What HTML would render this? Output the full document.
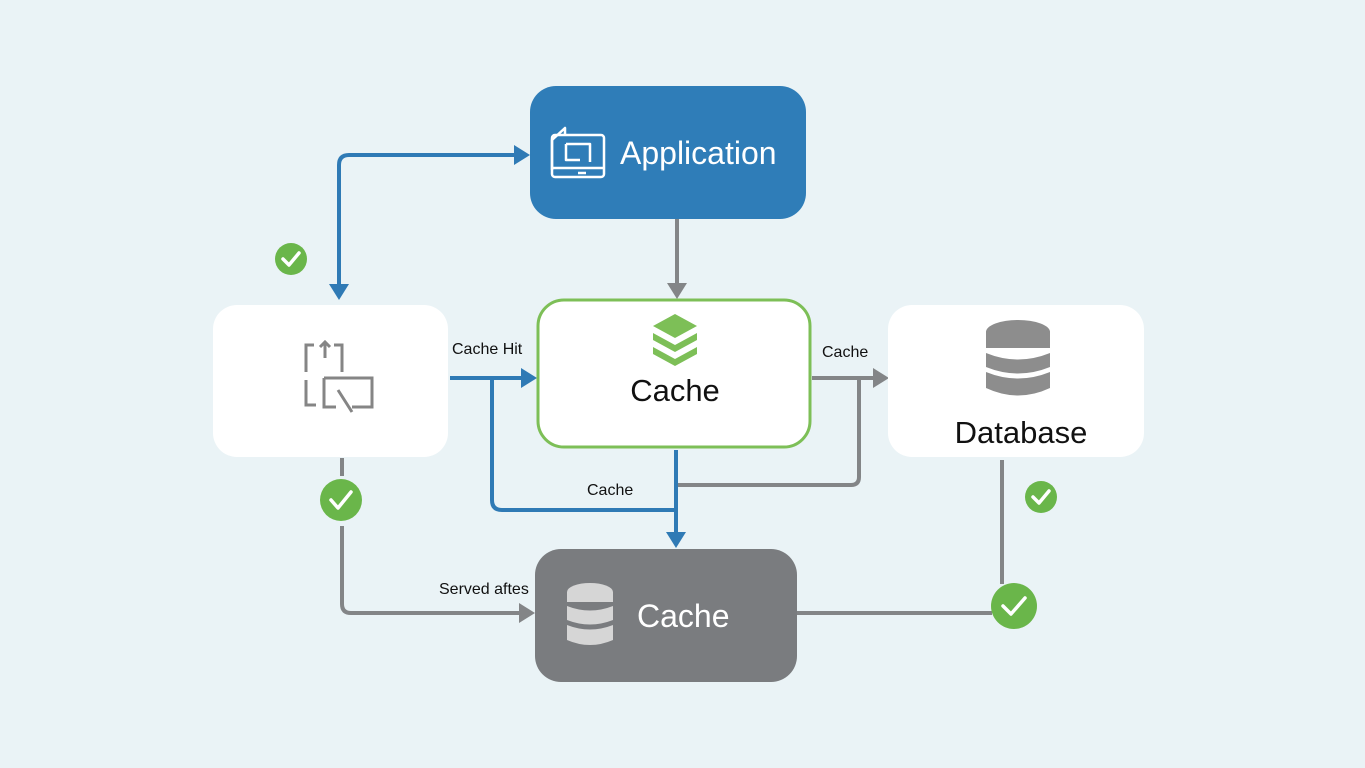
<!DOCTYPE html>
<html><head><style>
html,body{margin:0;padding:0;width:1365px;height:768px;overflow:hidden;background:#eaf3f6;}
svg{display:block;font-family:"Liberation Sans",sans-serif;}
</style></head><body>
<svg width="1365" height="768" viewBox="0 0 1365 768">
<rect width="1365" height="768" fill="#eaf3f6"/>
<g fill="none" stroke-width="4">
<path d="M339 286 V165 Q339 155 349 155 H516" stroke="#2f7ab5"/>
<path d="M677 219 V285" stroke="#838587"/>
<path d="M450 378 H522" stroke="#2f7ab5"/>
<path d="M492 378 V500 Q492 510 502 510 H676" stroke="#2f7ab5"/>
<path d="M676 450 V534" stroke="#2f7ab5"/>
<path d="M812 378 H874" stroke="#838587"/>
<path d="M859 378 V477 Q859 485 851 485 H678" stroke="#838587"/>
<path d="M342 458 V476" stroke="#838587"/>
<path d="M342 526 V604 Q342 613 351 613 H520" stroke="#838587"/>
<path d="M797 613 H992" stroke="#838587"/>
<path d="M1002 460 V584" stroke="#838587"/>
</g>
<g>
<polygon points="514,145 530,155 514,165" fill="#2f7ab5"/>
<polygon points="329,284 349,284 339,300" fill="#2f7ab5"/>
<polygon points="667,283 687,283 677,299" fill="#838587"/>
<polygon points="521,368 537,378 521,388" fill="#2f7ab5"/>
<polygon points="666,532 686,532 676,548" fill="#2f7ab5"/>
<polygon points="873,368 889,378 873,388" fill="#838587"/>
<polygon points="519,603 535,613 519,623" fill="#838587"/>
</g>
<rect x="530" y="86" width="276" height="133" rx="26" fill="#2f7db8"/>
<g fill="none" stroke="#fff" stroke-width="2.5" stroke-linejoin="round">
<path d="M552 170 V140 L565 128 V135"/>
<rect x="552" y="135" width="52" height="42" rx="3"/>
<path d="M552 168 H604"/>
<path d="M566 144 H590 V162 M566 144 V160 H580"/>
<path d="M578 173 H586"/>
</g>
<text x="620" y="164" font-size="32" fill="#fff">Application</text>
<rect x="213" y="305" width="235" height="152" rx="24" fill="#fff"/>
<g fill="none" stroke="#858585" stroke-width="3">
<path d="M314 345 H306 V372 M334 345 H342 V372 M325 342 V358 M320 347 L325 342 L330 347"/>
<path d="M306 380 V405 H316 M324 378 H372 V407 H352 M324 378 V407 H336 M338 390 L352 412"/>
</g>
<rect x="538" y="300" width="272" height="147" rx="26" fill="#fff" stroke="#7dbf57" stroke-width="3"/>
<g fill="#7dbf57">
<polygon points="675,314 697,326 675,338 653,326"/>
<polygon points="653,333 675,345 697,333 697,340 675,352 653,340"/>
<polygon points="653,347 675,359 697,347 697,354 675,366 653,354"/>
</g>
<text x="675" y="401" font-size="31" fill="#111" text-anchor="middle">Cache</text>
<rect x="888" y="305" width="256" height="152" rx="24" fill="#fff"/>
<g fill="#8d8d8d">
<ellipse cx="1018" cy="332" rx="32" ry="12"/>
<rect x="986" y="332" width="64" height="16"/>
<path d="M986 353 Q1018 366 1050 353 V367 Q1018 380 986 367Z"/>
<path d="M986 372 Q1018 385 1050 372 V388 Q1018 403 986 388Z"/>
</g>
<text x="1021" y="443" font-size="31" fill="#111" text-anchor="middle">Database</text>
<rect x="535" y="549" width="262" height="133" rx="26" fill="#7a7c7f"/>
<g fill="#d6d6d6">
<ellipse cx="590" cy="592" rx="23" ry="9"/>
<rect x="567" y="592" width="46" height="10"/>
<path d="M567 606 Q590 615 613 606 V620 Q590 629 567 620Z"/>
<path d="M567 625 Q590 634 613 625 V640 Q590 650 567 640Z"/>
</g>
<text x="637" y="627" font-size="32" fill="#fff">Cache</text>
<g font-size="16" fill="#111">
<text x="452" y="354">Cache Hit</text>
<text x="822" y="357">Cache</text>
<text x="587" y="495">Cache</text>
<text x="439" y="594">Served aftes</text>
</g>
<g>
<circle cx="291" cy="259" r="16" fill="#6ab64a"/>
<circle cx="341" cy="500" r="21" fill="#6ab64a"/>
<circle cx="1041" cy="497" r="16" fill="#6ab64a"/>
<circle cx="1014" cy="606" r="23" fill="#6ab64a"/>
</g>
<g fill="none" stroke="#fff" stroke-width="3.5" stroke-linecap="round" stroke-linejoin="round">
<path d="M283 259 L289 265 L299 253"/>
<path d="M331 500 L338 508 L351 492"/>
<path d="M1033 497 L1039 503 L1049 491"/>
<path d="M1003 606 L1011 614 L1025 598"/>
</g>
</svg>
</body></html>
